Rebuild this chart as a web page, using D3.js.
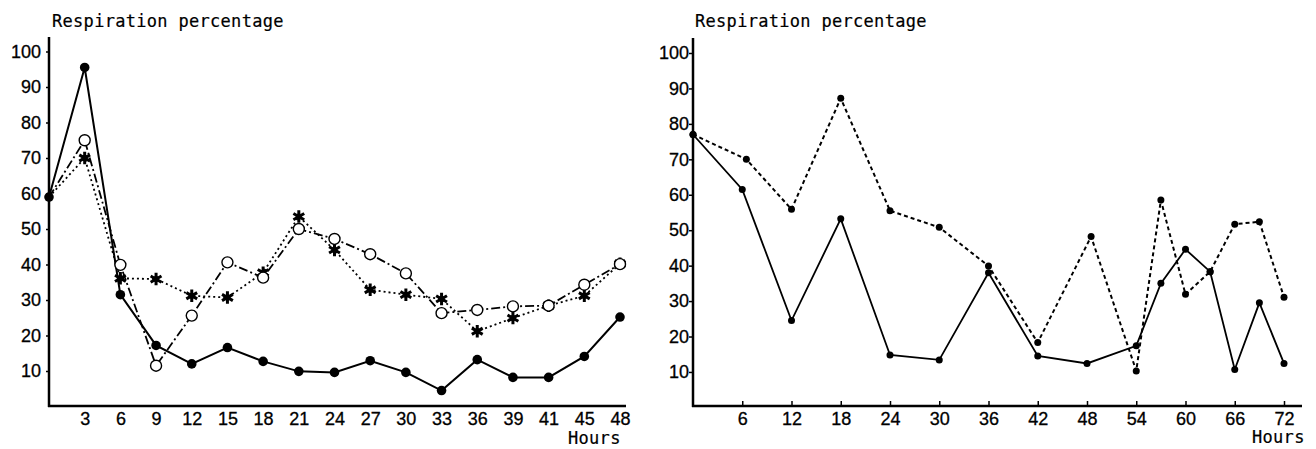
<!DOCTYPE html>
<html><head><meta charset="UTF-8">
<title>Respiration percentage</title>
<script src="https://d3js.org/d3.v7.min.js"></script>
<style>
  body { margin: 0; background: #fff; }
  text { fill: #000; }
  .tick text { font-family: "Liberation Sans", Arial, sans-serif; font-size: 18px; stroke: #000; stroke-width: 0.3px; }
  .mono { font-family: "DejaVu Sans Mono", monospace; font-size: 17px; letter-spacing: 0.3px; stroke: #000; stroke-width: 0.2px; }
</style>
</head>
<body>
<svg width="1316" height="449"></svg>
<script>
  // left panel: 0-48 hours
  const leftHours = ["0","3","6","9","12","15","18","21","24","27","30","33","36","39","41","45","48"]
  const leftSolid  = [59, 95.5, 31.5, 17.2, 12, 16.6, 12.7, 9.9, 9.6, 12.9, 9.6, 4.5, 13.2, 8.2, 8.2, 14.1, 25.2]
  const leftOpen   = [59, 75, 39.9, 11.5, 25.6, 40.6, 36.3, 50, 47.2, 42.9, 37.5, 26.3, 27.2, 28.2, 28.4, 34.3, 40.1]
  const leftStar   = [59, 70, 36.1, 35.9, 31.2, 30.7, 37.7, 53.5, 44.1, 32.9, 31.5, 30.3, 21.2, 24.9, 28.4, 31.2, 40.2]

  // right panel: 0-72 hours
  const rightSolidHours = [0, 6, 12, 18, 24, 30, 36, 42, 48, 54, 57, 60, 63, 66, 69, 72]
  const rightSolid      = [77, 61.5, 24.5, 53.2, 14.8, 13.4, 38, 14.5, 12.4, 17.4, 35, 44.6, 38.3, 10.7, 29.5, 12.4]
  const rightDashHours  = [0, 6.5, 12, 18, 24, 30, 36, 42, 48.5, 54, 57, 60, 63, 66, 69, 72]
  const rightDash       = [77, 70, 55.9, 87.2, 55.5, 50.8, 39.9, 18.3, 48.2, 10.3, 58.5, 31.9, 38.3, 51.7, 52.4, 31.1]
  const rightTicks = [6, 12, 18, 24, 30, 36, 42, 48, 54, 60, 66, 72]

  const yTicks = [10, 20, 30, 40, 50, 60, 70, 80, 90, 100]

  const svg = d3.select("svg")

  // ---------- left chart ----------
  const xL = d3.scalePoint().domain(leftHours).range([49, 620])
  const yL = d3.scaleLinear().domain([0, 100]).range([406.5, 51.5])
  const gL = svg.append("g")

  gL.append("text").attr("class", "mono").attr("x", 52).attr("y", 27).text("Respiration percentage")

  const axL = gL.append("g").attr("transform", "translate(49,0)")
    .call(d3.axisLeft(yL).tickValues(yTicks).tickSize(3).tickPadding(5).tickSizeOuter(0))
  axL.select(".domain").remove()
  axL.selectAll("line").attr("stroke-width", 1.5)
  gL.append("line").attr("x1", 49).attr("x2", 49).attr("y1", 37).attr("y2", 407)
    .attr("stroke", "#000").attr("stroke-width", 2.5)

  const axLx = gL.append("g").attr("transform", "translate(0,406)")
    .call(d3.axisBottom(xL).tickValues(leftHours.slice(1)).tickSize(0).tickPadding(6))
  axLx.select(".domain").remove()
  gL.append("line").attr("x1", 48).attr("x2", 626).attr("y1", 406).attr("y2", 406)
    .attr("stroke", "#000").attr("stroke-width", 2.5)
  gL.append("text").attr("class", "mono").attr("x", 568).attr("y", 444).text("Hours")

  const lineL = d3.line().x((d, i) => xL(leftHours[i])).y(d => yL(d))

  gL.append("path").attr("d", lineL(leftStar)).attr("fill", "none")
    .attr("stroke", "#000").attr("stroke-width", 1.8).attr("stroke-dasharray", "2,3")
  gL.append("path").attr("d", lineL(leftOpen)).attr("fill", "none")
    .attr("stroke", "#000").attr("stroke-width", 1.8).attr("stroke-dasharray", "9,3,2,3")
  gL.append("path").attr("d", lineL(leftSolid)).attr("fill", "none")
    .attr("stroke", "#000").attr("stroke-width", 2)

  gL.selectAll(".star").data(leftStar.slice(1)).join("path")
    .attr("class", "star")
    .attr("d", d3.symbol(d3.symbolAsterisk, 110))
    .attr("transform", (d, i) => `translate(${xL(leftHours[i + 1])},${yL(d)})`)
    .attr("fill", "none").attr("stroke", "#000").attr("stroke-width", 3)
  gL.selectAll(".starc").data(leftStar.slice(1)).join("circle")
    .attr("class", "starc")
    .attr("cx", (d, i) => xL(leftHours[i + 1])).attr("cy", d => yL(d)).attr("r", 3)
    .attr("fill", "#000")

  gL.selectAll(".open").data(leftOpen.slice(1)).join("circle")
    .attr("class", "open")
    .attr("cx", (d, i) => xL(leftHours[i + 1])).attr("cy", d => yL(d)).attr("r", 5.5)
    .attr("fill", "#fff").attr("stroke", "#000").attr("stroke-width", 1.4)

  gL.selectAll(".dot").data(leftSolid).join("circle")
    .attr("class", "dot")
    .attr("cx", (d, i) => xL(leftHours[i])).attr("cy", d => yL(d)).attr("r", 4.8)
    .attr("fill", "#000")

  // ---------- right chart ----------
  const xR = d3.scaleLinear().domain([0, 72]).range([693, 1284])
  const yR = d3.scaleLinear().domain([0, 100]).range([407.4, 53])
  const gR = svg.append("g")

  gR.append("text").attr("class", "mono").attr("x", 695).attr("y", 27).text("Respiration percentage")

  const axR = gR.append("g").attr("transform", "translate(693,0)")
    .call(d3.axisLeft(yR).tickValues(yTicks).tickSize(4).tickPadding(0).tickSizeOuter(0))
  axR.select(".domain").remove()
  axR.selectAll("line").attr("stroke-width", 1.5)
  gR.append("line").attr("x1", 693).attr("x2", 693).attr("y1", 38).attr("y2", 407)
    .attr("stroke", "#000").attr("stroke-width", 2.5)

  const axRx = gR.append("g").attr("transform", "translate(0,406)")
    .call(d3.axisBottom(xR).tickValues(rightTicks).tickSize(-5).tickPadding(6).tickSizeOuter(0))
  axRx.select(".domain").remove()
  axRx.selectAll("line").attr("stroke-width", 1.5)
  gR.append("line").attr("x1", 692).attr("x2", 1302).attr("y1", 406).attr("y2", 406)
    .attr("stroke", "#000").attr("stroke-width", 2.5)
  gR.append("text").attr("class", "mono").attr("x", 1252).attr("y", 443).text("Hours")

  const lineDash = d3.line().x((d, i) => xR(rightDashHours[i])).y(d => yR(d))
  const lineSolid = d3.line().x((d, i) => xR(rightSolidHours[i])).y(d => yR(d))

  gR.append("path").attr("d", lineDash(rightDash)).attr("fill", "none")
    .attr("stroke", "#000").attr("stroke-width", 2).attr("stroke-dasharray", "4,3")
  gR.append("path").attr("d", lineSolid(rightSolid)).attr("fill", "none")
    .attr("stroke", "#000").attr("stroke-width", 1.8)

  gR.selectAll(".ddot").data(rightDash).join("circle")
    .attr("class", "ddot")
    .attr("cx", (d, i) => xR(rightDashHours[i])).attr("cy", d => yR(d)).attr("r", 3.5)
    .attr("fill", "#000")
  gR.selectAll(".sdot").data(rightSolid).join("circle")
    .attr("class", "sdot")
    .attr("cx", (d, i) => xR(rightSolidHours[i])).attr("cy", d => yR(d)).attr("r", 3.5)
    .attr("fill", "#000")
</script>
</body></html>
